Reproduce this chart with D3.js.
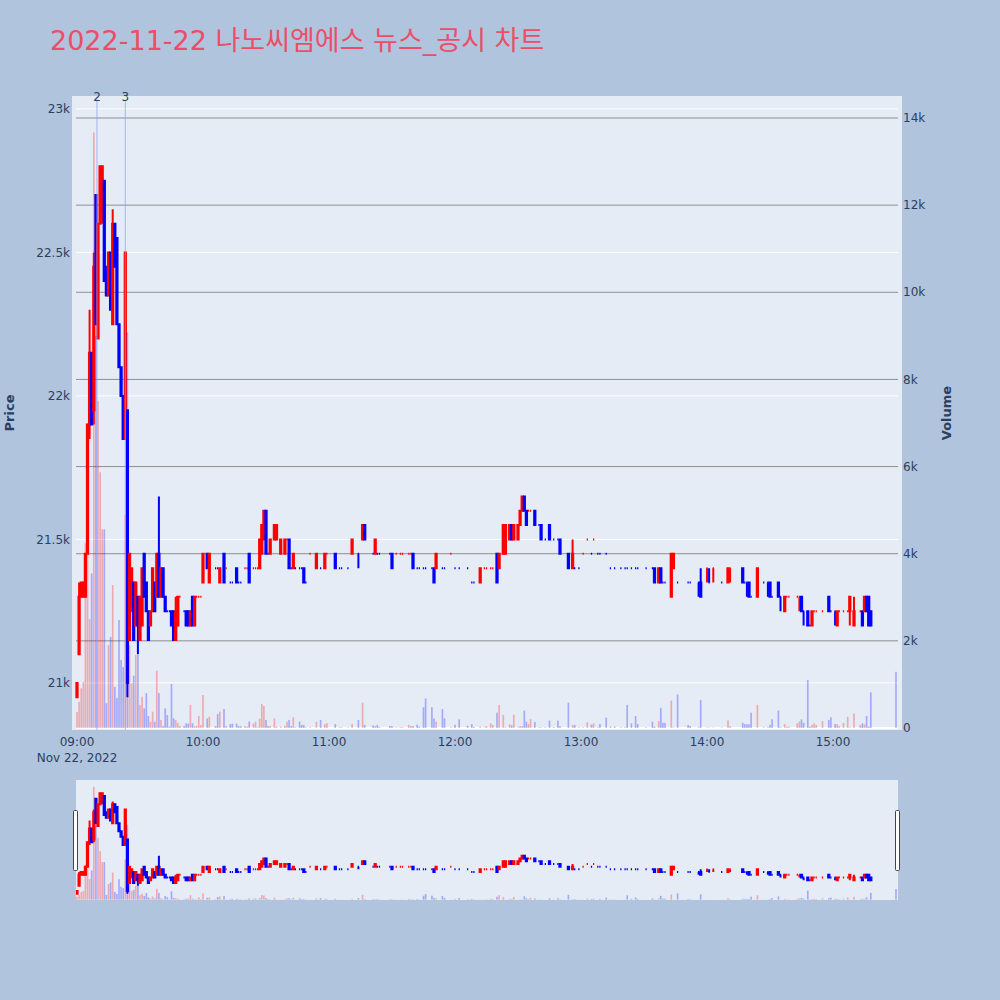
<!DOCTYPE html>
<html><head><meta charset="utf-8">
<script src="https://cdn.jsdelivr.net/npm/d3@7"></script>
<style>html,body{margin:0;padding:0;background:#B0C4DE;} svg{display:block}</style>
</head><body>
<svg id="chart" width="1000" height="1000"></svg>
<script>
const chartTitle = "2022-11-22 나노씨엠에스 뉴스_공시 차트";
const times = ["09:00","09:01","09:02","09:03","09:04","09:05","09:06","09:07","09:08","09:09","09:10","09:11","09:12","09:13","09:14","09:15","09:16","09:17","09:18","09:19","09:20","09:21","09:22","09:23","09:24","09:25","09:26","09:27","09:28","09:29","09:30","09:31","09:32","09:33","09:34","09:35","09:36","09:37","09:38","09:39","09:40","09:41","09:42","09:43","09:44","09:45","09:46","09:47","09:48","09:49","09:51","09:52","09:53","09:54","09:55","09:56","09:57","09:58","09:59","10:00","10:02","10:03","10:06","10:07","10:08","10:10","10:11","10:13","10:14","10:16","10:17","10:18","10:20","10:21","10:22","10:24","10:25","10:26","10:27","10:28","10:29","10:30","10:31","10:32","10:34","10:35","10:37","10:39","10:40","10:41","10:42","10:43","10:44","10:46","10:47","10:48","10:49","10:51","10:54","10:56","10:58","10:59","11:03","11:05","11:06","11:09","11:11","11:14","11:16","11:17","11:21","11:22","11:23","11:24","11:29","11:30","11:32","11:34","11:35","11:38","11:39","11:40","11:42","11:43","11:45","11:46","11:49","11:50","11:51","11:54","11:55","11:58","12:00","12:02","12:06","12:08","12:09","12:12","12:14","12:15","12:17","12:18","12:20","12:21","12:23","12:24","12:26","12:27","12:28","12:30","12:31","12:32","12:33","12:34","12:35","12:36","12:38","12:40","12:41","12:43","12:45","12:47","12:49","12:50","12:54","12:56","12:57","12:59","13:01","13:03","13:05","13:06","13:08","13:09","13:12","13:14","13:16","13:19","13:21","13:22","13:24","13:26","13:27","13:31","13:34","13:35","13:37","13:38","13:39","13:40","13:43","13:44","13:46","13:51","13:52","13:56","13:57","14:00","14:01","14:03","14:07","14:10","14:11","14:17","14:18","14:19","14:20","14:21","14:24","14:27","14:29","14:30","14:31","14:34","14:35","14:37","14:38","14:39","14:43","14:44","14:45","14:46","14:48","14:49","14:50","14:51","14:52","14:55","14:58","14:59","15:01","15:02","15:03","15:05","15:07","15:08","15:10","15:13","15:14","15:15","15:16","15:17","15:18","15:30"];
const opens = [20950,21100,21300,21300,21300,21450,21900,22150,21950,22700,22200,22600,22650,22750,22450,22350,22500,22250,22600,22550,22250,22100,22000,21850,21950,21150,21250,21350,21200,21300,21150,21200,21450,21350,21250,21200,21250,21350,21300,21450,21300,21400,21300,21250,21250,21250,21250,21150,21200,21300,21250,21250,21250,21200,21300,21200,21300,21300,21300,21350,21450,21350,21400,21400,21350,21450,21400,21350,21350,21400,21350,21350,21400,21400,21450,21400,21400,21400,21400,21450,21500,21600,21450,21450,21500,21500,21450,21450,21500,21500,21400,21400,21400,21400,21400,21400,21350,21450,21400,21400,21400,21450,21450,21400,21400,21400,21450,21450,21500,21550,21450,21450,21450,21450,21450,21450,21450,21450,21450,21450,21450,21450,21400,21400,21400,21400,21400,21400,21400,21400,21400,21450,21400,21400,21400,21350,21350,21350,21400,21400,21400,21400,21450,21400,21450,21450,21500,21550,21500,21500,21550,21600,21650,21600,21600,21600,21600,21550,21550,21500,21550,21500,21500,21500,21450,21400,21400,21400,21450,21500,21450,21500,21450,21450,21450,21400,21400,21400,21400,21400,21400,21400,21400,21400,21400,21400,21350,21400,21350,21350,21300,21400,21350,21350,21350,21350,21350,21400,21350,21400,21350,21350,21400,21400,21350,21350,21350,21300,21300,21350,21350,21350,21300,21350,21300,21250,21300,21300,21300,21300,21300,21250,21250,21200,21200,21250,21250,21250,21300,21250,21250,21200,21250,21250,21250,21250,21200,21250,21250,21250,21300,21300,21250,21200];
const highs = [21000,21350,21350,21350,21450,21900,22300,22150,22500,22700,22600,22800,22800,22750,22450,22500,22500,22650,22600,22550,22250,22100,22000,22500,21950,21450,21400,21350,21350,21300,21300,21400,21450,21350,21250,21250,21400,21350,21450,21650,21400,21400,21300,21250,21250,21250,21250,21300,21300,21300,21250,21250,21250,21250,21300,21300,21300,21300,21300,21450,21450,21450,21400,21400,21400,21450,21400,21350,21350,21400,21350,21350,21400,21400,21450,21400,21400,21400,21500,21550,21600,21600,21450,21500,21550,21550,21500,21500,21500,21500,21400,21450,21400,21400,21400,21400,21350,21450,21450,21400,21450,21450,21450,21400,21400,21400,21500,21450,21550,21550,21450,21500,21450,21450,21450,21450,21450,21450,21450,21450,21450,21450,21400,21400,21400,21400,21400,21400,21450,21400,21400,21450,21400,21400,21400,21350,21350,21400,21400,21400,21400,21400,21450,21450,21550,21550,21550,21550,21550,21550,21600,21650,21650,21600,21600,21600,21600,21550,21550,21500,21550,21500,21500,21500,21450,21500,21400,21400,21450,21500,21450,21500,21450,21450,21450,21400,21400,21400,21400,21400,21400,21400,21400,21400,21400,21400,21400,21400,21350,21350,21450,21450,21350,21350,21350,21350,21350,21400,21350,21400,21350,21400,21400,21400,21350,21350,21350,21300,21400,21350,21350,21350,21300,21350,21300,21300,21300,21300,21300,21300,21300,21250,21250,21200,21250,21250,21250,21250,21300,21250,21250,21250,21250,21250,21250,21250,21300,21250,21250,21250,21300,21300,21250,21200];
const lows = [20950,21100,21300,21300,21300,21450,21850,21900,21900,22250,22200,22600,22600,22400,22350,22350,22300,22250,22450,22250,22100,22000,21850,21850,20950,21150,21250,21150,21200,21100,21150,21200,21300,21250,21150,21200,21250,21250,21300,21300,21300,21300,21250,21250,21250,21200,21150,21150,21200,21300,21250,21200,21200,21200,21200,21200,21300,21300,21300,21350,21400,21350,21400,21400,21350,21350,21400,21350,21350,21350,21350,21350,21400,21400,21350,21400,21400,21400,21400,21450,21500,21450,21450,21450,21500,21500,21450,21450,21500,21400,21400,21400,21400,21400,21400,21350,21350,21450,21400,21400,21400,21450,21400,21400,21400,21400,21450,21400,21500,21500,21450,21450,21450,21450,21450,21400,21450,21450,21450,21450,21450,21400,21400,21400,21400,21400,21400,21350,21400,21400,21400,21450,21400,21400,21400,21350,21350,21350,21400,21400,21400,21400,21350,21400,21450,21450,21500,21500,21500,21500,21550,21600,21600,21550,21600,21600,21550,21550,21500,21500,21500,21500,21500,21450,21400,21400,21400,21400,21450,21500,21450,21500,21450,21450,21450,21400,21400,21400,21400,21400,21400,21400,21400,21400,21400,21350,21350,21350,21350,21350,21300,21400,21350,21350,21350,21300,21400,21350,21400,21350,21350,21400,21350,21350,21350,21300,21300,21300,21350,21350,21300,21300,21300,21300,21250,21300,21300,21300,21300,21250,21250,21200,21200,21200,21250,21250,21250,21250,21250,21250,21200,21250,21250,21250,21250,21200,21250,21250,21200,21300,21250,21200,21200];
const closes = [21000,21300,21350,21350,21450,21900,22150,21900,22450,22250,22600,22800,22800,22400,22350,22500,22300,22600,22450,22250,22100,22000,21850,22500,21000,21450,21400,21150,21350,21200,21300,21400,21300,21250,21150,21250,21400,21250,21450,21300,21400,21300,21250,21250,21250,21200,21150,21250,21300,21300,21250,21200,21200,21250,21200,21300,21300,21300,21300,21450,21400,21450,21400,21400,21400,21350,21400,21350,21350,21350,21350,21350,21400,21400,21350,21400,21400,21400,21500,21550,21600,21450,21450,21500,21550,21550,21500,21500,21500,21400,21400,21450,21400,21400,21400,21350,21350,21450,21450,21400,21450,21450,21400,21400,21400,21400,21500,21450,21550,21500,21450,21500,21450,21450,21450,21400,21450,21450,21450,21450,21450,21400,21400,21400,21400,21400,21400,21350,21450,21400,21400,21450,21400,21400,21400,21350,21350,21400,21400,21400,21400,21400,21350,21450,21550,21550,21550,21500,21550,21550,21600,21650,21600,21550,21600,21600,21550,21550,21500,21500,21500,21500,21500,21450,21400,21450,21400,21400,21450,21500,21450,21500,21450,21450,21450,21400,21400,21400,21400,21400,21400,21400,21400,21400,21400,21350,21400,21350,21350,21350,21450,21450,21350,21350,21350,21350,21300,21400,21350,21400,21350,21400,21400,21350,21350,21350,21300,21300,21400,21350,21350,21300,21300,21300,21300,21300,21300,21300,21300,21300,21250,21250,21200,21200,21250,21250,21250,21250,21250,21250,21250,21250,21250,21250,21250,21300,21250,21250,21200,21300,21250,21200,21200];
const volumes = [370,600,910,1060,4240,7000,2500,3550,13670,9000,7500,5870,4560,4560,570,1900,2090,3280,940,690,2480,1560,1400,4890,9080,1900,1025,1200,1675,1675,530,720,450,800,275,145,375,145,1315,800,185,45,450,300,30,1010,220,185,120,45,45,107,100,530,110,45,45,275,70,757,220,260,45,320,375,436,45,90,100,100,45,40,45,30,150,100,145,20,215,550,505,185,45,45,220,30,30,50,145,185,45,245,15,150,70,70,15,15,145,185,90,107,90,15,15,10,90,185,580,70,60,45,70,20,45,45,15,20,20,75,45,45,75,30,475,680,475,220,145,436,220,20,75,200,50,90,20,30,15,45,107,70,350,530,300,15,90,60,305,15,45,45,400,145,90,205,140,15,15,15,170,20,170,45,580,70,70,15,20,130,80,107,15,90,237,30,30,15,15,530,107,275,90,15,145,30,160,460,120,120,630,15,770,70,45,15,640,10,10,10,10,175,45,120,90,85,85,350,530,15,15,75,200,400,15,90,30,30,107,150,200,120,1100,30,70,107,70,160,185,245,90,90,45,120,260,15,335,70,107,85,275,30,820,1290];
const priceTicks = [21000, 21500, 22000, 22500, 23000];
const volumeTicks = [0, 2000, 4000, 6000, 8000, 10000, 12000, 14000];
const hourTicks = ["09:00","10:00","11:00","12:00","13:00","14:00","15:00"];
const dateLabel = "Nov 22, 2022";
const newsTimes = ["09:09:30","09:23:00"];
const newsLabels = ["2","3"];

const toDate = s => { const p = s.split(':').map(Number); return new Date(2022, 10, 22, p[0], p[1], p[2] || 0); };
const data = times.map((t, i) => ({t: toDate(t), o: opens[i], h: highs[i], l: lows[i], c: closes[i], v: volumes[i]}));
let prevC = null, prevInc = true;
data.forEach(d => {
  let inc;
  if (d.c > d.o) inc = true; else if (d.c < d.o) inc = false;
  else if (prevC !== null && d.c !== prevC) inc = d.c > prevC; else inc = prevInc;
  d.inc = inc; prevC = d.c; prevInc = inc;
});

const W = 1000, H = 1000;
const svg = d3.select('#chart');
const FONT = "'DejaVu Sans', 'Noto Sans CJK KR', sans-serif";
const TXT = '#2a3f5f';
const UP = '#ff0000', DOWN = '#0000ff';
svg.append('rect').attr('width', W).attr('height', H).attr('fill', '#B0C4DE');

const P = {l: 76, r: 898, t: 96, b: 730};
const x = d3.scaleTime().domain([toDate("09:00"), toDate("15:00")]).range([77, 833]);
const yP = d3.scaleLinear().domain([20836, 23045]).range([P.b, P.t]);
const yV = d3.scaleLinear().domain([-46, 14505]).range([P.b, P.t]);

const defs = svg.append('defs');
defs.append('clipPath').attr('id', 'clipMain').append('rect').attr('x', 72).attr('y', P.t).attr('width', 830).attr('height', P.b - P.t);
defs.append('clipPath').attr('id', 'clipSlider').append('rect').attr('x', P.l).attr('y', 780).attr('width', P.r - P.l).attr('height', 120);

// plot background
svg.append('rect').attr('x', 72).attr('y', P.t).attr('width', 830).attr('height', P.b - P.t).attr('fill', '#E5ECF6');

// price grid (white)
svg.append('g').selectAll('line').data(priceTicks).join('line')
  .attr('x1', P.l).attr('x2', P.r).attr('y1', d => yP(d)).attr('y2', d => yP(d))
  .attr('stroke', '#ffffff').attr('stroke-width', 1);
// volume grid (gray)
svg.append('g').selectAll('line').data(volumeTicks.filter(v => v > 0)).join('line')
  .attr('x1', P.l).attr('x2', P.r).attr('y1', d => yV(d)).attr('y2', d => yV(d))
  .attr('stroke', '#8f8f8f').attr('stroke-width', 1);
svg.append('line').attr('x1', P.l).attr('x2', P.r).attr('y1', yV(0)).attr('y2', yV(0))
  .attr('stroke', '#ffffff').attr('stroke-width', 2);

const BODY = 0.63; // half body width in px
function candlePath(d, sx, sy) {
  const cx = sx(d.t), yo = sy(d.o), yc = sy(d.c), yh = sy(d.h), yl = sy(d.l);
  const top = Math.min(yo, yc), bot = Math.max(yo, yc);
  return `M${cx - BODY},${top}H${cx + BODY}V${bot}H${cx - BODY}Z M${cx},${top}V${yh} M${cx},${bot}V${yl}`;
}
function drawSeries(g, sy, sv) {
  g.append('g').selectAll('path').data(data).join('path')
    .attr('d', d => candlePath(d, x, sy))
    .attr('fill', d => d.inc ? UP : DOWN).attr('stroke', d => d.inc ? UP : DOWN)
    .attr('stroke-width', 2).attr('stroke-linejoin', 'miter');
  g.append('g').selectAll('rect').data(data).join('rect')
    .attr('x', d => x(d.t) - 0.84).attr('width', 1.68)
    .attr('y', d => sv(d.v)).attr('height', d => sv(0) - sv(d.v))
    .attr('fill', d => d.inc ? UP : DOWN).attr('fill-opacity', 0.28);
}
drawSeries(svg.append('g').attr('clip-path', 'url(#clipMain)'), yP, yV);

// news markers
const news = newsTimes.map((t, i) => ({t: toDate(t), label: newsLabels[i]}));
svg.append('g').selectAll('line').data(news).join('line')
  .attr('x1', d => x(d.t)).attr('x2', d => x(d.t)).attr('y1', 101).attr('y2', P.b)
  .attr('stroke', 'rgb(140,160,240)').attr('stroke-opacity', 0.75).attr('stroke-width', 1);
svg.append('g').selectAll('text').data(news).join('text')
  .attr('x', d => x(d.t)).attr('y', 100.5).attr('text-anchor', 'middle')
  .attr('font-family', FONT).attr('font-size', 12).attr('fill', TXT).text(d => d.label);

// axes labels
const fmt = d3.format('~s');
svg.append('g').selectAll('text').data(priceTicks).join('text')
  .attr('x', 70).attr('y', d => yP(d)).attr('dy', '0.35em').attr('text-anchor', 'end')
  .attr('font-family', FONT).attr('font-size', 12).attr('fill', TXT).text(d => fmt(d));
svg.append('g').selectAll('text').data(volumeTicks).join('text')
  .attr('x', 903).attr('y', d => yV(d)).attr('dy', '0.35em').attr('text-anchor', 'start')
  .attr('font-family', FONT).attr('font-size', 12).attr('fill', TXT).text(d => fmt(d));
svg.append('g').selectAll('text').data(hourTicks).join('text')
  .attr('x', d => x(toDate(d))).attr('y', 745.5).attr('text-anchor', 'middle')
  .attr('font-family', FONT).attr('font-size', 12).attr('fill', TXT).text(d => d3.timeFormat('%H:%M')(toDate(d)));
svg.append('text').attr('x', x(toDate(hourTicks[0]))).attr('y', 761.5).attr('text-anchor', 'middle')
  .attr('font-family', FONT).attr('font-size', 12).attr('fill', TXT).text(dateLabel);

svg.append('text').attr('transform', `translate(14,${(P.t + P.b) / 2}) rotate(-90)`).attr('text-anchor', 'middle')
  .attr('font-family', FONT).attr('font-size', 13).attr('font-weight', 'bold').attr('fill', TXT).text('Price');
svg.append('text').attr('transform', `translate(951,${(P.t + P.b) / 2}) rotate(-90)`).attr('text-anchor', 'middle')
  .attr('font-family', FONT).attr('font-size', 13).attr('font-weight', 'bold').attr('fill', TXT).text('Volume');

// title
svg.append('text').attr('x', 50).attr('y', 50).attr('font-family', FONT).attr('font-size', 27)
  .attr('fill', '#ea4f67').text(chartTitle);

// range slider
svg.append('rect').attr('x', P.l).attr('y', 780).attr('width', P.r - P.l).attr('height', 120).attr('fill', '#E5ECF6');
const yPs = yP.copy().range([900, 780]);
const yVs = yV.copy().range([900, 780]);
drawSeries(svg.append('g').attr('clip-path', 'url(#clipSlider)'), yPs, yVs);
[P.l, P.r].forEach(px => {
  svg.append('rect').attr('x', px - 2.5).attr('y', 810.5).attr('width', 4).attr('height', 60).attr('rx', 1)
    .attr('fill', '#ffffff').attr('stroke', '#444').attr('stroke-width', 1);
});
</script>
</body></html>
